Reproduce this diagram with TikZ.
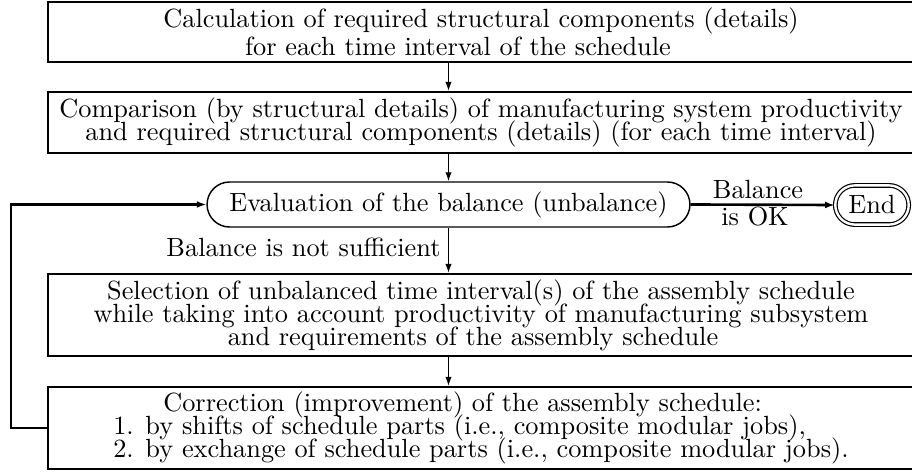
\documentclass[tikz,border=0pt]{standalone}
\usetikzlibrary{shapes.misc,arrows.meta}
\begin{document}
\begin{tikzpicture}[x=0.38pt,y=-0.38pt,
  box/.style={draw, line width=0.85pt, rectangle, inner sep=0pt,
    minimum width=329.08pt},
  evbox/.style={draw, line width=0.55pt, rounded rectangle, inner sep=0pt,
    minimum width=183.5pt, minimum height=17.1pt},
  endbox/.style={draw, line width=0.45pt, double, double distance=0.9pt,
    rounded rectangle, inner sep=0pt, minimum width=27.9pt, minimum height=14.9pt},
  arr/.style={line width=0.45pt, -{Latex[length=3.4pt,width=2.4pt]}},
  thickarr/.style={line width=1pt, -{Latex[length=3.6pt,width=2.6pt]}},
  lbl/.style={inner sep=0pt}]
\useasboundingbox (0,0) rectangle (912,472);

\node[box, minimum height=22.8pt, align=center,
  font={\fontsize{10}{10.5}\selectfont\lineskiplimit=-20pt}] (b1) at (481,32)
  {Calculation of required structural components (details)\\
   for each time interval of the schedule\hspace*{17.5pt}};

\node[box, minimum height=23.18pt, align=center,
  font={\fontsize{10}{8.6}\selectfont\lineskiplimit=-20pt}] (b2) at (481,122.5)
  {Comparison (by structural details) of manufacturing system productivity\\
   and required structural components (details) (for each time interval)};

\node[evbox] (ev) at (448.5,204.5) {Evaluation of the balance (unbalance)};

\node[endbox] (end) at (872,205) {End};

\node[box, minimum height=31.16pt, align=center,
  font={\fontsize{10}{8.8}\selectfont\lineskiplimit=-20pt}] (b3) at (481,315)
  {Selection of unbalanced time interval(s) of the assembly schedule\\
   while taking into account productivity of manufacturing subsystem\\
   and requirements of the assembly schedule\hspace*{6.1pt}};

\node[box, minimum height=31.16pt, align=left,
  font={\fontsize{10}{8.7}\selectfont\lineskiplimit=-20pt}] (b4) at (481,428)
  {\hspace*{19pt}Correction (improvement) of the assembly schedule:\\
   1. by shifts of schedule parts (i.e., composite modular jobs),\\
   2. by exchange of schedule parts (i.e., composite modular jobs).};

\node[lbl, anchor=base] (bal) at (758,199) {Balance};
\node[lbl, anchor=base] (isok) at (755,226) {is OK};
\node[lbl, anchor=base east] (notsuf) at (441,257) {Balance is not sufficient};

\coordinate (lp) at (11,0);

\draw[arr] (b1.south -| ev) -- (b2.north -| ev);
\draw[arr] (b2.south -| ev) -- (ev.north);
\draw[arr] (ev.south) -- (b3.north -| ev);
\draw[arr] (b3.south -| ev) -- (b4.north -| ev);
\draw[thickarr] (ev.east) -- (end.west);
\draw[thickarr] (b4.west) -- (b4.west -| lp) |- (ev.west);
\end{tikzpicture}
\end{document}
